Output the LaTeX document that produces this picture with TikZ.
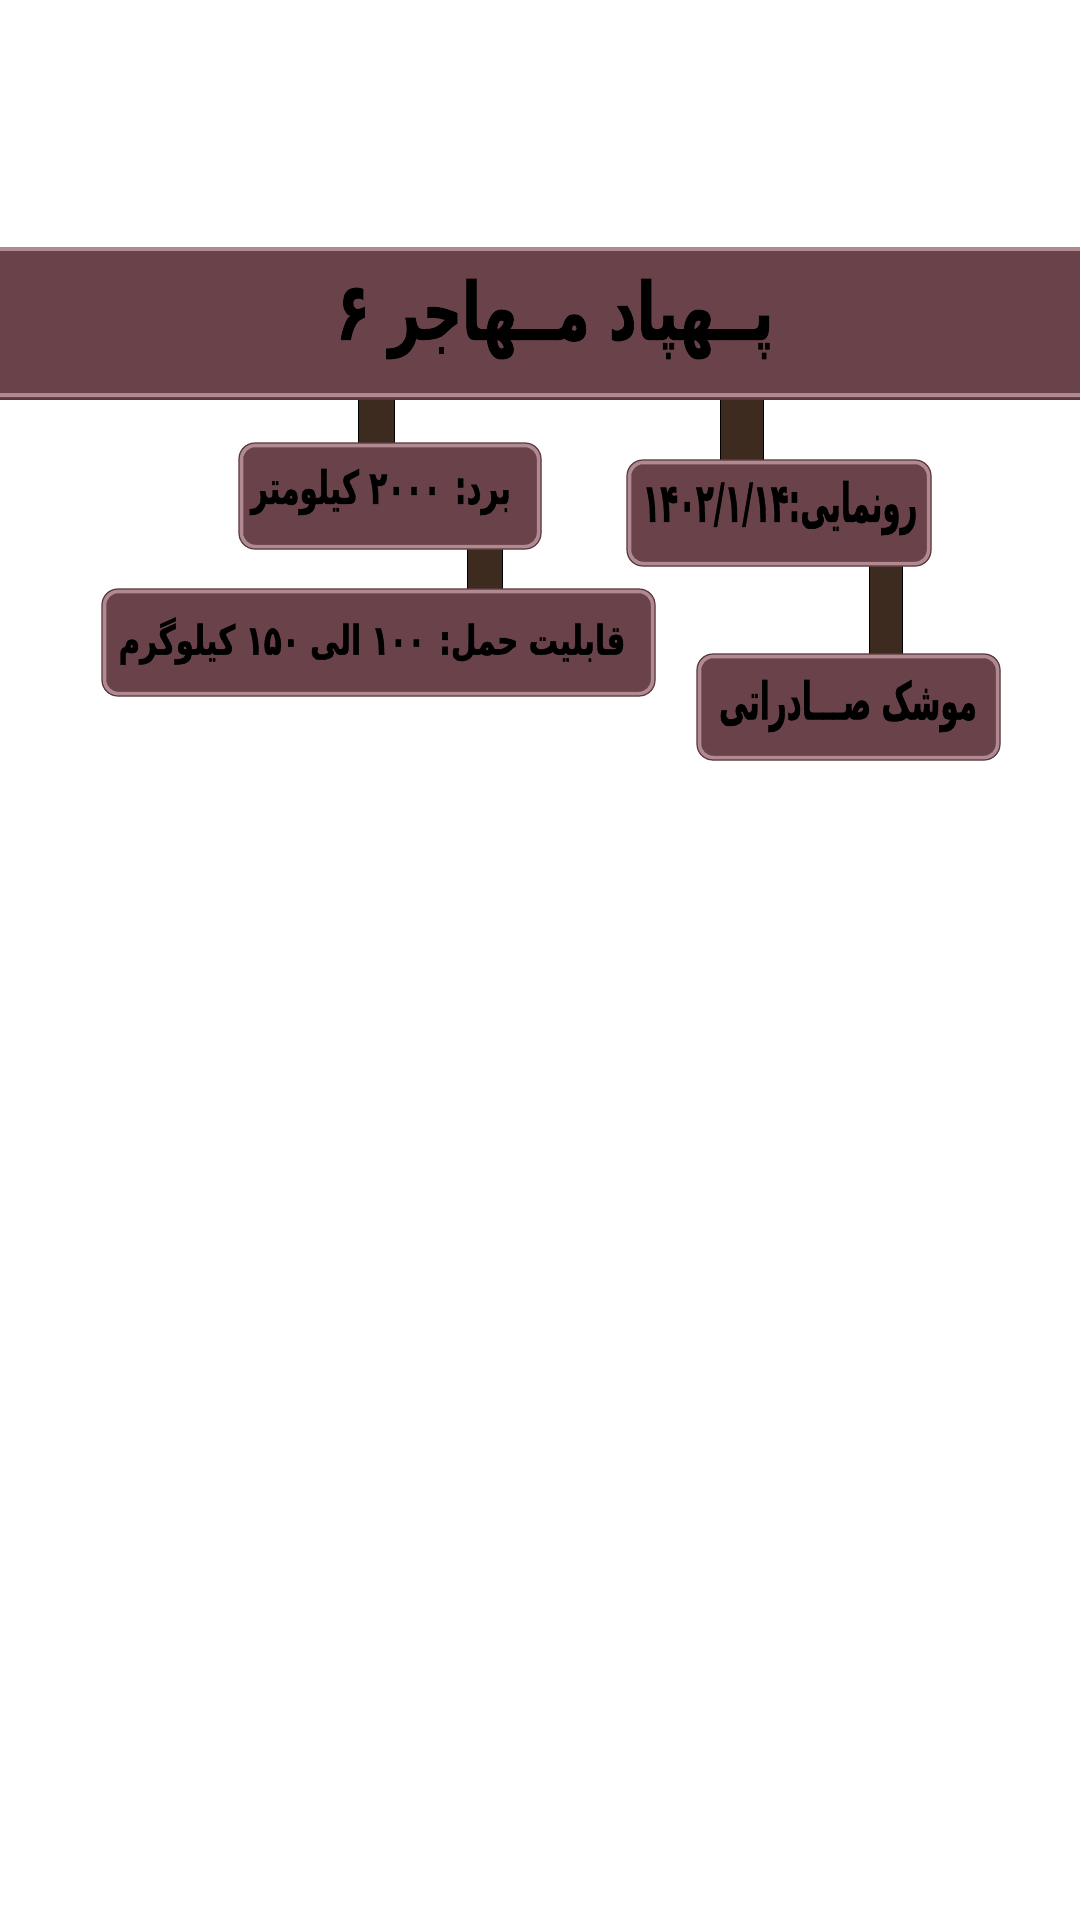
\documentclass[tikz,border=0pt]{standalone}
\usepackage{fontspec}
\usepackage{graphicx}
\TeXXeTstate=1
\newfontfamily\fa[Script=Arabic, BoldFeatures={FakeBold=1.2}]{DejaVu Sans}
\tikzset{
  bx/.style={rounded corners=14pt, fill=boxfill, draw=boxedge, line width=4.5pt},
  bxo/.style={rounded corners=16pt, draw=boxdark, line width=1.2pt},
  stem/.style={fill=stemfill, draw=black, line width=1pt},
  lbl/.style={font=\fa\bfseries\fontsize{34}{40}\selectfont, text=black, inner sep=0pt},
}
\definecolor{boxfill}{HTML}{6A434A}
\definecolor{boxedge}{HTML}{B08A90}
\definecolor{boxdark}{HTML}{5A383F}
\definecolor{stemfill}{HTML}{3C2B1E}
\begin{document}
\begin{tikzpicture}[x=1pt,y=-1pt]
\useasboundingbox (0,0) rectangle (1080,1920);
\fill[white] (0,0) rectangle (1080,1920);
% connectors (drawn first, under boxes)
\path[stem] (358,398) rectangle (394,445);
\path[stem] (720,398) rectangle (763,462);
\path[stem] (467,547) rectangle (502,592);
\path[stem] (869,564) rectangle (902,656);
% title bar
\fill[boxfill] (0,248) rectangle (1080,399);
\fill[boxedge] (0,247) rectangle (1080,251);
\fill[boxedge] (0,393) rectangle (1080,397);
\draw[boxdark, line width=1.2pt] (0,399) -- (1080,399);
\node[lbl] (title) at (555,319) {\resizebox*{437pt}{80pt}{\beginR پــهپاد مــهاجر ۶\endR}};
% boxes
\path[bx] (241,445) rectangle (539,547);
\path[bxo] (239,443) rectangle (541,549);
\node[lbl] (bord) at (381,492) {\resizebox*{260pt}{46pt}{\beginR برد: \beginL ۲۰۰۰\endL{} کیلومتر\endR}};
\path[bx] (104,591) rectangle (653,694);
\path[bxo] (102,589) rectangle (655,696);
\node[lbl] (haml) at (372,641) {\resizebox*{507pt}{47pt}{\beginR قابلیت حمل: \beginL ۱۰۰\endL{} الی \beginL ۱۵۰\endL{} کیلوگرم\endR}};
\path[bx] (629,462) rectangle (929,564);
\path[bxo] (627,460) rectangle (931,566);
\node[lbl] (ronamaei) at (780,508) {\resizebox*{275pt}{54pt}{\beginR رونمایی:\beginL ۱۴۰۲/۱/۱۴\endL\endR}};
\path[bx] (699,656) rectangle (998,758);
\path[bxo] (697,654) rectangle (1000,760);
\node[lbl] (mooshak) at (848,706) {\resizebox*{258pt}{52pt}{\beginR موشک صـــادراتی\endR}};
\end{tikzpicture}
\end{document}
